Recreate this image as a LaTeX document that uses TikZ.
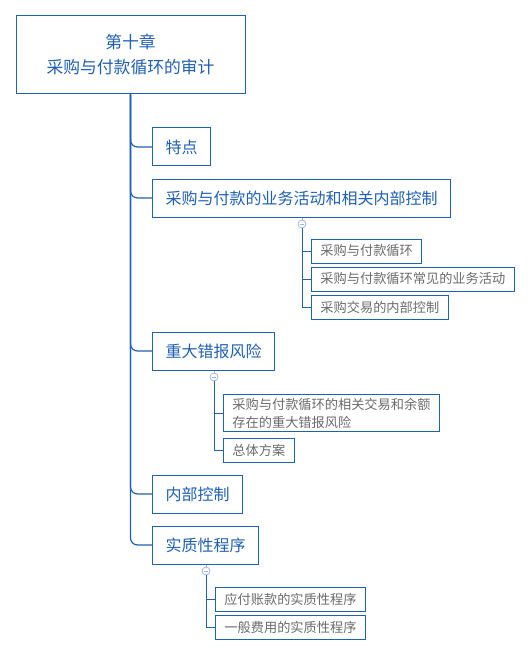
\documentclass[tikz,border=0pt]{standalone}
\usepackage{fontspec}
\newfontfamily\cjk{Noto Sans CJK SC}
\usetikzlibrary{positioning}

\definecolor{mapblue}{HTML}{1F5FB4}
\definecolor{leafgray}{HTML}{6B6B6B}
\definecolor{knobblue}{HTML}{9DB8E0}

\tikzset{
  rootbox/.style={draw=mapblue, line width=1pt, text=mapblue, font=\cjk\fontsize{16.8}{25}\selectfont, align=center, minimum width=229, minimum height=78},
  topicbox/.style={draw=mapblue, line width=1pt, text=mapblue, font=\cjk\fontsize{16}{20}\selectfont, inner xsep=13, minimum height=38, anchor=west},
  leafbox/.style={draw=mapblue, line width=0.9pt, text=leafgray, font=\cjk\fontsize{13.2}{18}\selectfont, inner xsep=9, minimum height=24, anchor=west, align=left},
  knob/.style={circle, draw=knobblue, fill=white, inner sep=0pt, minimum size=8, line width=0.8pt,
    path picture={\draw[knobblue, line width=0.8pt] ([xshift=-2.2]path picture bounding box.center) -- ([xshift=2.2]path picture bounding box.center);}},
  trunk/.style={mapblue, line width=1.2pt, rounded corners=7},
  twig/.style={mapblue, line width=1pt},
  stem/.style={knobblue, line width=0.8pt},
}

\begin{document}
\begin{tikzpicture}[x=1pt, y=-1pt]
  \useasboundingbox (0,0) rectangle (531,655);

  % Central topic
  \node[rootbox] (root) at (130.5,55) {第十章\\采购与付款循环的审计};

  % Main branches
  \node[topicbox] (tedian) at (152,147) {特点};
  \node[topicbox] (yewu) at (152,198) {采购与付款的业务活动和相关内部控制};
  \node[topicbox] (fengxian) at (152,351) {重大错报风险};
  \node[topicbox] (neikong) at (152,494) {内部控制};
  \node[topicbox] (shizhi) at (152,545) {实质性程序};

  \foreach \t in {tedian,yewu,fengxian,neikong,shizhi}
    \draw[trunk] (root.south) |- (\t.west);

  % Collapse knobs
  \node[knob] (k1) at (302,224) {};
  \node[knob] (k2) at (214,377) {};
  \node[knob] (k3) at (206,571) {};

  % Sub topics
  \node[leafbox] (xunhuan) at (311,251) {采购与付款循环};
  \node[leafbox] (huodong) at (311,279) {采购与付款循环常见的业务活动};
  \node[leafbox] (jiaoyi) at (311,307) {采购交易的内部控制};

  \node[leafbox] (cuobao) at (223,413) {采购与付款循环的相关交易和余额\\存在的重大错报风险};
  \node[leafbox] (fangan) at (223,450) {总体方案};

  \node[leafbox] (yingfu) at (215,599) {应付账款的实质性程序};
  \node[leafbox] (feiyong) at (215,627) {一般费用的实质性程序};

  % Sub topic lines
  \draw[stem] (yewu.south -| k1) -- (k1);
  \draw[stem] (fengxian.south -| k2) -- (k2);
  \draw[stem] (shizhi.south -| k3) -- (k3);

  \foreach \l in {xunhuan,huodong,jiaoyi}
    \draw[twig] (k1.south) |- (\l.west);
  \foreach \l in {cuobao,fangan}
    \draw[twig] (k2.south) |- (\l.west);
  \foreach \l in {yingfu,feiyong}
    \draw[twig] (k3.south) |- (\l.west);
\end{tikzpicture}
\end{document}
